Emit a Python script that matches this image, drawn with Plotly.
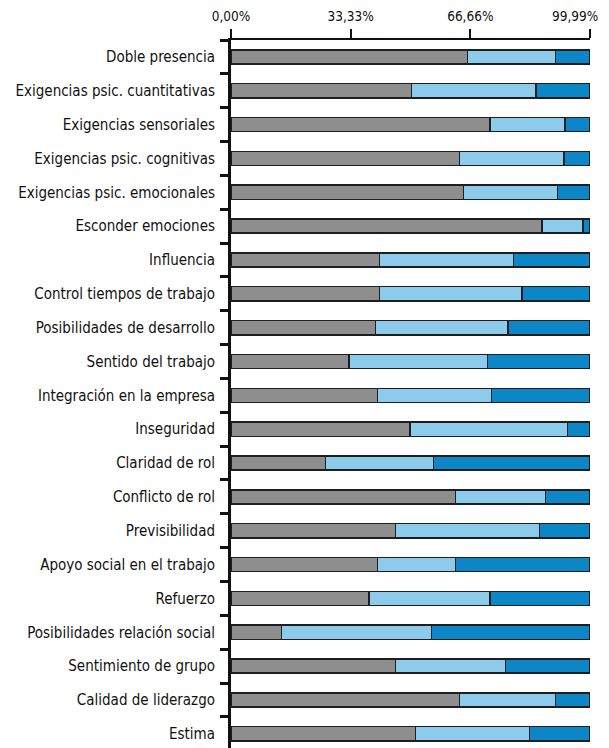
import plotly.graph_objects as go

categories = [
    "Doble presencia",
    "Exigencias psic. cuantitativas",
    "Exigencias sensoriales",
    "Exigencias psic. cognitivas",
    "Exigencias psic. emocionales",
    "Esconder emociones",
    "Influencia",
    "Control tiempos de trabajo",
    "Posibilidades de desarrollo",
    "Sentido del trabajo",
    "Integración en la empresa",
    "Inseguridad",
    "Claridad de rol",
    "Conflicto de rol",
    "Previsibilidad",
    "Apoyo social en el trabajo",
    "Refuerzo",
    "Posibilidades relación social",
    "Sentimiento de grupo",
    "Calidad de liderazgo",
    "Estima",
]

# cumulative boundaries (percent)
gray_end = [65.9, 50.3, 72.1, 63.6, 64.8, 86.6, 41.4, 41.3, 40.2, 32.9, 40.8,
            49.8, 26.3, 62.6, 45.8, 40.8, 38.5, 14.0, 45.8, 63.6, 51.4]
light_end = [90.4, 84.9, 93.1, 92.8, 91.0, 98.1, 78.7, 81.0, 77.1, 71.5, 72.6,
             93.8, 56.4, 87.6, 85.9, 62.5, 72.1, 55.8, 76.5, 90.4, 83.2]

gray_vals = gray_end
light_vals = [round(l - g, 1) for g, l in zip(gray_end, light_end)]
blue_vals = [round(100 - l, 1) for l in light_end]

tick_vals = [0, 33.33, 66.66, 99.99]
tick_text = ["0,00%", "33,33%", "66,66%", "99,99%"]

FONT = "DejaVu Sans Condensed, DejaVu Sans, sans-serif"
line = dict(color="#1e1e1e", width=1.5)

fig = go.Figure()
for vals, col in [(gray_vals, "#8e8e8e"), (light_vals, "#8dcbec"), (blue_vals, "#0c86c6")]:
    fig.add_trace(go.Bar(
        y=categories, x=vals, orientation="h",
        marker=dict(color=col, line=line),
        width=0.42, showlegend=False,
    ))

fig.update_layout(
    barmode="stack",
    width=609, height=740,
    margin=dict(l=223, r=27, t=32, b=0),
    paper_bgcolor="white", plot_bgcolor="white",
    font=dict(family=FONT, size=15, color="#111111"),
)
# last tick label sits at the right edge: draw it right-aligned so it stays visible
axis_text = tick_text[:-1] + [""]
fig.update_xaxes(
    side="top", range=[0, 100], tickvals=tick_vals, ticktext=axis_text,
    showline=True, linecolor="#111111", linewidth=2,
    ticks="outside", ticklen=9, tickwidth=2, tickcolor="#111111",
    showgrid=False, zeroline=False, automargin=False,
    ticklabeloverflow="allow", ticklabelstandoff=3,
    tickfont=dict(family=FONT, size=13.5),
)
fig.add_annotation(
    x=tick_vals[-1], xref="x", y=1, yref="paper",
    text=tick_text[-1], showarrow=False,
    xanchor="right", yanchor="bottom", xshift=10, yshift=14,
    font=dict(family=FONT, size=13.5, color="#111111"),
)
fig.update_yaxes(
    type="category", categoryorder="array", categoryarray=categories,
    range=[20.42, -0.5],
    showline=True, linecolor="#111111", linewidth=3,
    ticks="outside", ticklen=8, tickwidth=3, tickcolor="#111111",
    tickson="boundaries", ticklabelstandoff=10,
    showgrid=False, zeroline=False, automargin=False,
    ticklabeloverflow="allow",
    tickfont=dict(family=FONT, size=15),
)

fig.write_html("out.html")
